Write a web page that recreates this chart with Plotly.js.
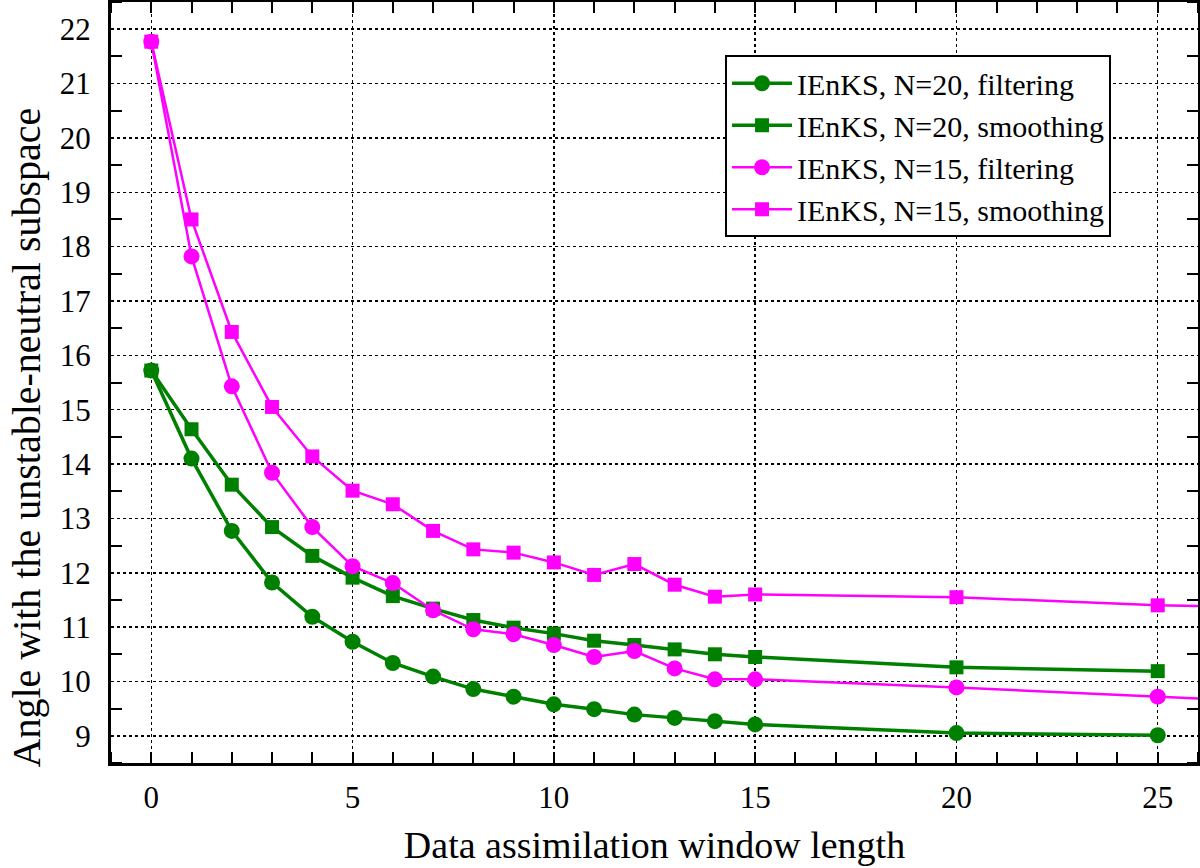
<!DOCTYPE html>
<html>
<head>
<meta charset="utf-8">
<script src="https://cdn.plot.ly/plotly-3.0.1.min.js"></script>
<style>
html,body{margin:0;padding:0;background:#fff;}
#chart{width:1200px;height:868px;}
</style>
</head>
<body>
<div id="chart"></div>
<script>
const xGreen = [0,1,2,3,4,5,6,7,8,9,10,11,12,13,14,15,20,25];
const xPink  = [0,1,2,3,4,5,6,7,8,9,10,11,12,13,14,15,20,25,30];
const greenFiltering = [15.72,14.10,12.77,11.82,11.19,10.73,10.34,10.09,9.86,9.72,9.58,9.49,9.39,9.33,9.27,9.21,9.05,9.01];
const greenSmoothing = [15.72,14.64,13.62,12.84,12.31,11.91,11.57,11.34,11.13,10.99,10.88,10.75,10.67,10.59,10.50,10.45,10.26,10.19];
const pinkFiltering  = [21.77,17.82,15.43,13.84,12.84,12.12,11.81,11.31,10.96,10.87,10.67,10.45,10.56,10.24,10.04,10.04,9.89,9.72,9.55];
const pinkSmoothing  = [21.77,18.50,16.43,15.05,14.14,13.51,13.26,12.77,12.43,12.37,12.19,11.96,12.16,11.78,11.56,11.60,11.55,11.40,11.34];
const seriesNames = ['IEnKS, N=20, filtering','IEnKS, N=20, smoothing','IEnKS, N=15, filtering','IEnKS, N=15, smoothing'];
const xTickVals = [0,5,10,15,20,25];
const yTickVals = [9,10,11,12,13,14,15,16,17,18,19,20,21,22];
const xTitle = 'Data assimilation window length';
const yTitle = 'Angle with the unstable-neutral subspace';

const GREEN = '#008000', PINK = '#ff00ff';
const FONT = 'Liberation Serif';

const traces = [
  {x: xGreen, y: greenFiltering, name: seriesNames[0], mode: 'lines+markers',
   line: {color: GREEN, width: 3.5}, marker: {symbol: 'circle', size: 16, color: GREEN}},
  {x: xGreen, y: greenSmoothing, name: seriesNames[1], mode: 'lines+markers',
   line: {color: GREEN, width: 3.5}, marker: {symbol: 'square', size: 14, color: GREEN}},
  {x: xPink, y: pinkFiltering, name: seriesNames[2], mode: 'lines+markers',
   line: {color: PINK, width: 2.5}, marker: {symbol: 'circle', size: 16, color: PINK}},
  {x: xPink, y: pinkSmoothing, name: seriesNames[3], mode: 'lines+markers',
   line: {color: PINK, width: 2.5}, marker: {symbol: 'square', size: 14, color: PINK}}
];

function axisBase() {
  return {
    showline: true, linecolor: '#000', linewidth: 3, mirror: 'allticks',
    showgrid: true, gridcolor: '#000', gridwidth: 1.5, griddash: 'dot',
    zeroline: false, ticks: '',
    tickfont: {family: FONT, size: 31, color: '#000'}
  };
}

const xaxis = axisBase();
Object.assign(xaxis, {
  range: [-1, 26], tickmode: 'array', tickvals: xTickVals, ticklabelstandoff: 5,
  minor: {dtick: 1, tick0: 0, ticks: 'inside', ticklen: 11, tickwidth: 2, tickcolor: '#000', showgrid: false},
  title: {text: xTitle, font: {family: FONT, size: 38, color: '#000'}, standoff: 18}
});
const yaxis = axisBase();
Object.assign(yaxis, {
  range: [8.5, 22.5], tickmode: 'array', tickvals: yTickVals, ticklabelstandoff: 11,
  minor: {dtick: 1, tick0: 8.5, ticks: 'inside', ticklen: 11, tickwidth: 2, tickcolor: '#000', showgrid: false}
});

const layout = {
  width: 1200, height: 868,
  margin: {l: 111, r: 2, t: 2, b: 105},
  paper_bgcolor: '#fff', plot_bgcolor: '#fff',
  font: {family: FONT, color: '#000'},
  showlegend: true,
  legend: {
    x: 0.92, y: 0.93, xanchor: 'right', yanchor: 'top',
    bgcolor: '#fff', bordercolor: '#000', borderwidth: 2,
    font: {family: FONT, size: 30, color: '#000'},
    itemwidth: 60, tracegroupgap: 0
  },
  xaxis: xaxis,
  yaxis: yaxis,
  annotations: [{
    text: yTitle, textangle: -90, xref: 'paper', yref: 'paper',
    x: -0.078, y: 0.428, xanchor: 'center', yanchor: 'middle', showarrow: false,
    font: {family: FONT, size: 40, color: '#000'}
  }]
};

Plotly.newPlot('chart', traces, layout, {displayModeBar: false, staticPlot: true});
</script>
</body>
</html>
